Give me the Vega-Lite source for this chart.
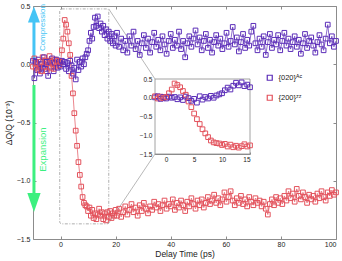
{
"$schema": "https://vega.github.io/schema/vega-lite/v6.json",
"width": 303, "height": 233,
"autosize": {"type": "none"},
"padding": {"left": 33, "top": 6, "right": 6, "bottom": 22},
"config": {"font": "Liberation Sans", "view": {"stroke": null},
  "axis": {"grid": false, "domainColor": "#8c8c8c", "tickColor": "#8c8c8c", "labelColor": "#222", "labelFontSize": 7, "titleFontSize": 8.5, "titleFontWeight": "normal", "titleColor": "#222", "tickSize": -3, "labelPadding": 4}},
"data": {"values": [
{"t":-10,"a":0.03,"z":-0.02},{"t":-9.5,"a":-0.12,"z":0.05},{"t":-9,"a":0.02,"z":-0.03},{"t":-8.5,"a":-0.05,"z":0.0},{"t":-8,"a":0.04,"z":-0.05},{"t":-7.5,"a":-0.08,"z":0.02},{"t":-7,"a":0.0,"z":-0.06},{"t":-6.5,"a":-0.03,"z":0.06},{"t":-6,"a":0.06,"z":-0.02},{"t":-5.5,"a":-0.04,"z":0.03},{"t":-5,"a":0.02,"z":-0.06},{"t":-4.5,"a":-0.1,"z":0.01},{"t":-4,"a":0.03,"z":0.07},{"t":-3.5,"a":-0.02,"z":-0.03},{"t":-3,"a":0.05,"z":0.02},{"t":-2.5,"a":-0.06,"z":-0.04},{"t":-2,"a":0.01,"z":0.04},{"t":-1.5,"a":0.04,"z":-0.02},{"t":-1,"a":-0.03,"z":0.03},{"t":-0.5,"a":0.02,"z":-0.01},{"t":0,"a":-0.02,"z":0.02},{"t":0.5,"a":0.03,"z":0.12},{"t":1,"a":0.0,"z":0.22},{"t":1.5,"a":0.02,"z":0.38},{"t":2,"a":-0.04,"z":0.34},{"t":2.5,"a":0.01,"z":0.28},{"t":3,"a":-0.06,"z":0.18},{"t":3.5,"a":0.03,"z":0.08},{"t":4,"a":-0.01,"z":-0.1},{"t":4.5,"a":-0.08,"z":-0.25},{"t":5,"a":-0.03,"z":-0.42},{"t":5.5,"a":-0.13,"z":-0.57},{"t":6,"a":0.04,"z":-0.7},{"t":6.5,"a":-0.05,"z":-0.84},{"t":7,"a":0.02,"z":-0.95},{"t":7.5,"a":-0.02,"z":-1.05},{"t":8,"a":0.05,"z":-1.14},{"t":8.5,"a":0.0,"z":-1.19},{"t":9,"a":0.06,"z":-1.21},{"t":9.5,"a":0.09,"z":-1.22},{"t":10,"a":0.12,"z":-1.26},{"t":10.5,"a":0.2,"z":-1.23},{"t":11,"a":0.27,"z":-1.3},{"t":11.5,"a":0.22,"z":-1.25},{"t":12,"a":0.32,"z":-1.32},{"t":12.5,"a":0.4,"z":-1.28},{"t":13,"a":0.33,"z":-1.33},{"t":13.5,"a":0.41,"z":-1.29},{"t":14,"a":0.31,"z":-1.24},{"t":14.5,"a":0.35,"z":-1.3},{"t":15,"a":0.28,"z":-1.27},{"t":15.5,"a":0.33,"z":-1.33},{"t":16,"a":0.25,"z":-1.28},{"t":16.5,"a":0.3,"z":-1.34},{"t":17,"a":0.22,"z":-1.27},{"t":17.5,"a":0.28,"z":-1.31},{"t":18,"a":0.2,"z":-1.26},{"t":18.5,"a":0.26,"z":-1.32},{"t":19,"a":0.18,"z":-1.28},{"t":19.5,"a":0.24,"z":-1.3},{"t":20,"a":0.16,"z":-1.25},
{"t":20.5,"a":0.27,"z":-1.3},{"t":21.25,"a":0.15,"z":-1.24},{"t":22,"a":0.22,"z":-1.31},{"t":22.75,"a":0.12,"z":-1.27},{"t":23.5,"a":0.2,"z":-1.22},{"t":24.25,"a":0.1,"z":-1.29},{"t":25,"a":0.24,"z":-1.25},{"t":25.75,"a":0.16,"z":-1.2},{"t":26.5,"a":0.28,"z":-1.27},{"t":27.25,"a":0.13,"z":-1.23},{"t":28,"a":0.2,"z":-1.3},{"t":28.75,"a":0.08,"z":-1.21},{"t":29.5,"a":0.18,"z":-1.26},{"t":30.25,"a":0.25,"z":-1.19},{"t":31,"a":0.14,"z":-1.24},{"t":31.75,"a":0.22,"z":-1.28},{"t":32.5,"a":0.1,"z":-1.22},{"t":33.25,"a":0.19,"z":-1.25},{"t":34,"a":0.27,"z":-1.18},{"t":34.75,"a":0.15,"z":-1.23},{"t":35.5,"a":0.21,"z":-1.2},{"t":36.25,"a":0.12,"z":-1.26},{"t":37,"a":0.24,"z":-1.21},{"t":37.75,"a":0.17,"z":-1.17},{"t":38.5,"a":0.09,"z":-1.24},{"t":39.25,"a":0.2,"z":-1.2},{"t":40,"a":0.26,"z":-1.22},{"t":40.75,"a":0.14,"z":-1.16},{"t":41.5,"a":0.21,"z":-1.25},{"t":42.25,"a":0.16,"z":-1.19},{"t":43,"a":0.28,"z":-1.23},{"t":43.75,"a":0.13,"z":-1.17},{"t":44.5,"a":0.2,"z":-1.21},{"t":45.25,"a":0.06,"z":-1.26},{"t":46,"a":0.18,"z":-1.18},{"t":46.75,"a":0.24,"z":-1.22},{"t":47.5,"a":0.15,"z":-1.15},{"t":48.25,"a":0.22,"z":-1.2},{"t":49,"a":0.29,"z":-1.24},{"t":49.75,"a":0.17,"z":-1.17},{"t":50.5,"a":0.23,"z":-1.21},{"t":51.25,"a":0.12,"z":-1.16},{"t":52,"a":0.2,"z":-1.23},{"t":52.75,"a":0.26,"z":-1.19},{"t":53.5,"a":0.14,"z":-1.14},{"t":54.25,"a":0.21,"z":-1.2},{"t":55,"a":0.1,"z":-1.17},{"t":55.75,"a":0.19,"z":-1.12},{"t":56.5,"a":0.25,"z":-1.19},{"t":57.25,"a":0.16,"z":-1.15},{"t":58,"a":0.22,"z":-1.21},{"t":58.75,"a":0.13,"z":-1.16},{"t":59.5,"a":0.18,"z":-1.1},{"t":60.25,"a":0.27,"z":-1.18},{"t":61,"a":0.15,"z":-1.14},{"t":61.75,"a":0.2,"z":-1.09},{"t":62.5,"a":0.32,"z":-1.17},{"t":63.25,"a":0.17,"z":-1.21},{"t":64,"a":0.23,"z":-1.15},{"t":64.75,"a":0.11,"z":-1.19},{"t":65.5,"a":0.19,"z":-1.13},{"t":66.25,"a":0.26,"z":-1.2},{"t":67,"a":0.14,"z":-1.16},{"t":67.75,"a":0.21,"z":-1.22},{"t":68.5,"a":0.16,"z":-1.14},{"t":69.25,"a":0.28,"z":-1.18},{"t":70,"a":0.33,"z":-1.21},{"t":70.75,"a":0.18,"z":-1.15},{"t":71.5,"a":0.12,"z":-1.19},{"t":72.25,"a":0.22,"z":-1.17},{"t":73,"a":0.15,"z":-1.22},{"t":73.75,"a":0.24,"z":-1.18},{"t":74.5,"a":0.08,"z":-1.24},{"t":75.25,"a":0.19,"z":-1.29},{"t":76,"a":0.26,"z":-1.2},{"t":76.75,"a":0.14,"z":-1.16},{"t":77.5,"a":0.21,"z":-1.21},{"t":78.25,"a":0.17,"z":-1.14},{"t":79,"a":0.25,"z":-1.19},{"t":79.75,"a":0.12,"z":-1.15},{"t":80.5,"a":0.2,"z":-1.2},{"t":81.25,"a":0.27,"z":-1.13},{"t":82,"a":0.16,"z":-1.17},{"t":82.75,"a":0.22,"z":-1.09},{"t":83.5,"a":0.13,"z":-1.15},{"t":84.25,"a":0.19,"z":-1.11},{"t":85,"a":0.24,"z":-1.18},{"t":85.75,"a":0.15,"z":-1.07},{"t":86.5,"a":0.21,"z":-1.13},{"t":87.25,"a":0.09,"z":-1.16},{"t":88,"a":0.18,"z":-1.1},{"t":88.75,"a":0.26,"z":-1.14},{"t":89.5,"a":0.14,"z":-1.19},{"t":90.25,"a":0.2,"z":-1.12},{"t":91,"a":0.23,"z":-1.16},{"t":91.75,"a":0.16,"z":-1.13},{"t":92.5,"a":0.1,"z":-1.18},{"t":93.25,"a":0.19,"z":-1.11},{"t":94,"a":0.25,"z":-1.15},{"t":94.75,"a":0.17,"z":-1.09},{"t":95.5,"a":0.12,"z":-1.14},{"t":96.25,"a":0.22,"z":-1.17},{"t":97,"a":0.34,"z":-1.1},{"t":97.75,"a":0.18,"z":-1.13},{"t":98.5,"a":0.24,"z":-1.08},{"t":99.25,"a":0.15,"z":-1.12},{"t":100,"a":0.2,"z":-1.1}
]},
"transform": [{"fold": ["a", "z"], "as": ["s", "v"]}],
"layer": [
 {
  "layer": [
   {"data": {"values": [{}]}, "mark": {"type": "rule", "stroke": "#45c4f5", "strokeWidth": 3},
    "encoding": {"x": {"datum": -9.65, "type": "quantitative"}, "y": {"datum": -0.02, "type": "quantitative"}, "y2": {"datum": 0.42}}},
   {"data": {"values": [{}]}, "mark": {"type": "point", "shape": "M0,-1L0.75,1L-0.75,1Z", "size": 256, "filled": true, "fill": "#45c4f5", "strokeWidth": 0, "opacity": 1},
    "encoding": {"x": {"datum": -9.65, "type": "quantitative"}, "y": {"datum": 0.428, "type": "quantitative"}}},
   {"data": {"values": [{}]}, "mark": {"type": "rule", "stroke": "#3cf07f", "strokeWidth": 3},
    "encoding": {"x": {"datum": -9.65, "type": "quantitative"}, "y": {"datum": -0.178, "type": "quantitative"}, "y2": {"datum": -1.15}}},
   {"data": {"values": [{}]}, "mark": {"type": "point", "shape": "M0,1L0.7,-1L-0.7,-1Z", "size": 361, "filled": true, "fill": "#3cf07f", "strokeWidth": 0, "opacity": 1},
    "encoding": {"x": {"datum": -9.65, "type": "quantitative"}, "y": {"datum": -1.187, "type": "quantitative"}}},
   {"data": {"values": [{"lab": "Compression"}]}, "mark": {"type": "text", "angle": 270, "align": "center", "baseline": "middle", "fontSize": 8, "color": "#45c4f5"},
    "encoding": {"x": {"datum": -6.35, "type": "quantitative"}, "y": {"datum": 0.315, "type": "quantitative"}, "text": {"field": "lab"}}},
   {"data": {"values": [{"lab": "Expansion"}]}, "mark": {"type": "text", "angle": 270, "align": "center", "baseline": "middle", "fontSize": 9.5, "color": "#3cf07f"},
    "encoding": {"x": {"datum": -6.35, "type": "quantitative"}, "y": {"datum": -0.732, "type": "quantitative"}, "text": {"field": "lab"}}},
   {"data": {"values": [{}]}, "mark": {"type": "rect", "fill": null, "fillOpacity": 0, "stroke": "#9a9a9a", "strokeWidth": 0.8, "strokeDash": [3, 1.5, 1, 1.5], "cornerRadius": 2},
    "encoding": {"x": {"datum": -0.3, "type": "quantitative"}, "x2": {"datum": 17.5}, "y": {"datum": 0.475, "type": "quantitative"}, "y2": {"datum": -1.37}}},
   {"data": {"values": [{}]}, "mark": {"type": "rule", "stroke": "#9a9a9a", "strokeWidth": 0.7},
    "encoding": {"x": {"datum": 17.5, "type": "quantitative"}, "y": {"datum": 0.475, "type": "quantitative"}, "x2": {"datum": 34.3}, "y2": {"datum": -0.127}}},
   {"data": {"values": [{}]}, "mark": {"type": "rule", "stroke": "#9a9a9a", "strokeWidth": 0.7},
    "encoding": {"x": {"datum": 17.3, "type": "quantitative"}, "y": {"datum": -1.37, "type": "quantitative"}, "x2": {"datum": 34.3}, "y2": {"datum": -0.77}}},
   {"mark": {"type": "line", "strokeWidth": 0.7},
    "encoding": {
      "x": {"field": "t", "type": "quantitative", "scale": {"domain": [-10, 100], "nice": false, "zero": false}, "axis": {"title": "Delay Time (ps)", "values": [0, 20, 40, 60, 80, 100], "titlePadding": 2}},
      "y": {"field": "v", "type": "quantitative", "scale": {"domain": [-1.5, 0.5], "nice": false, "zero": false}, "axis": {"title": "ΔQ/Q (10⁻³)", "values": [-1.5, -1, -0.5, 0, 0.5], "format": ".1f", "titlePadding": 3, "labelPadding": 6}},
      "color": {"field": "s", "type": "nominal", "scale": {"domain": ["a", "z"], "range": ["#5b2db8", "#e3525c"]}}}},
   {"mark": {"type": "point", "shape": "square", "filled": false, "size": 22, "strokeWidth": 1, "opacity": 1},
    "encoding": {
      "x": {"field": "t", "type": "quantitative"},
      "y": {"field": "v", "type": "quantitative"},
      "color": {"field": "s", "type": "nominal", "legend": {"orient": "none", "legendX": 233, "legendY": 68, "title": null, "labelExpr": "datum.value == 'a' ? '{020}ᴬᶜ' : '{200}ᶻᶻ'", "symbolType": "square", "symbolSize": 25, "symbolStrokeWidth": 1.2, "symbolFillColor": "transparent", "labelFontSize": 7.5, "labelColor": "#222", "rowPadding": 9, "labelOffset": 5}}}}
  ]
 },
 {
  "data": {"values": [{}]},
  "mark": {"type": "point", "opacity": 0},
  "encoding": {
    "x": {"datum": 0, "type": "quantitative", "scale": {"domain": [-10, 100], "nice": false, "zero": false}, "axis": {"orient": "top", "labels": false, "title": null, "values": [0, 20, 40, 60, 80, 100]}},
    "y": {"datum": 0, "type": "quantitative", "scale": {"domain": [-1.5, 0.5], "nice": false, "zero": false}, "axis": {"orient": "right", "labels": false, "title": null, "values": [-1.5, -1, -0.5, 0, 0.5]}}}
 },
 {
  "transform": [{"filter": "datum.t >= -2 && datum.t <= 15"}],
  "layer": [
   {"data": {"values": [{}]}, "mark": {"type": "rect", "fill": "white", "stroke": "#8c8c8c", "strokeWidth": 0.8},
    "encoding": {"x": {"datum": -2, "type": "quantitative", "scale": {"domain": [-2, 15], "range": [122, 217], "nice": false, "zero": false}, "axis": {"orient": "bottom", "offset": -85, "title": null, "values": [0, 5, 10, 15], "labelFontSize": 6.5, "tickSize": -2, "labelPadding": 4}},
      "x2": {"datum": 15},
      "y": {"datum": -1.5, "type": "quantitative", "scale": {"domain": [-1.5, 0.5], "range": [148, 73], "nice": false, "zero": false}, "axis": {"orient": "left", "offset": -122, "title": null, "values": [-1.5, -1, -0.5, 0, 0.5], "format": ".1f", "labelFontSize": 6.5, "tickSize": -2, "labelPadding": 5}},
      "y2": {"datum": 0.5}}},
   {"mark": {"type": "point", "shape": "square", "filled": false, "size": 22, "strokeWidth": 1, "opacity": 1},
    "encoding": {"x": {"field": "t", "type": "quantitative"}, "y": {"field": "v", "type": "quantitative"}, "color": {"field": "s", "type": "nominal"}}}
  ]
 }
],
"resolve": {"scale": {"x": "independent", "y": "independent"}}
}
